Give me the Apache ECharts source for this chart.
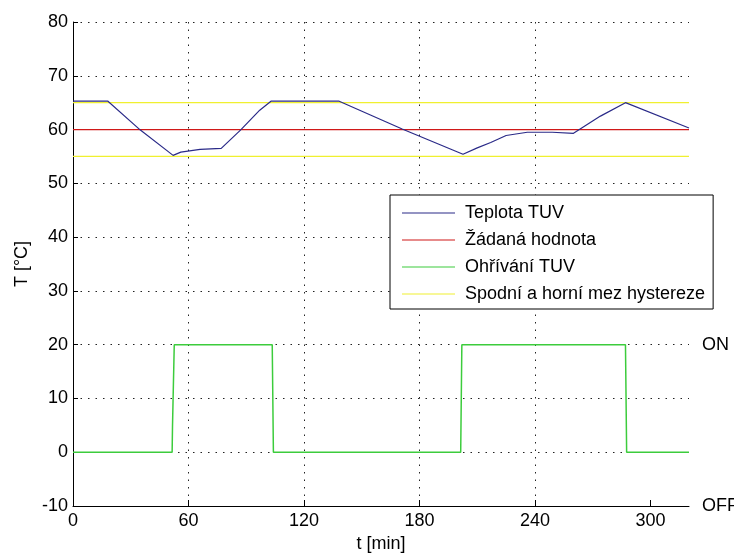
<!DOCTYPE html>
<html>
<head>
<meta charset="utf-8">
<script src="https://cdn.jsdelivr.net/npm/echarts@6/dist/echarts.min.js"></script>
<style>html,body{margin:0;padding:0;background:#fff}#c{width:734px;height:556px}</style>
</head>
<body>
<div id="c"></div>
<script>
// ---- data ----
var tempTime  = [0, 18, 35, 52, 56, 66, 77, 87, 97, 103, 138, 171, 202.6, 210, 217, 225, 236, 249, 250, 260, 274, 287, 320];
var tempValue = [65.3, 65.3, 59.9, 55.2, 55.8, 56.3, 56.5, 59.9, 63.6, 65.3, 65.3, 60.1, 55.4, 56.6, 57.6, 58.9, 59.5, 59.5, 59.2, 59.3, 62.5, 65.0, 60.3];
var setTime   = [0, 320];
var setValue  = [60, 60];
var heatTime  = [0, 51.5, 51.7, 52.6, 103.5, 103.8, 104.1, 201.4, 201.7, 202.0, 287.0, 287.3, 287.6, 320];
var heatValue = [0, 0, 5, 20, 20, 10, 0, 0, 10, 20, 20, 10, 0, 0];
var lowerTime = [0, 320];
var lowerValue = [55, 55];
var upperTime = [0, 320];
var upperValue = [65, 65];
var xTicks = [0, 60, 120, 180, 240, 300];
var stateTicks = [-10, 20];
var stateLabels = ['OFF', 'ON'];
var names = ['Teplota TUV', 'Žádaná hodnota', 'Ohřívání TUV', 'Spodní a horní mez hystereze'];

function pairs(a, b) { return a.map(function (v, i) { return [v, b[i]]; }); }

var FONT = 'Liberation Sans, Arial, sans-serif';
var FS = 18;
var dotted = { color: '#222', width: 1, type: [1.5, 6] };

var chart = echarts.init(document.getElementById('c'), null, { renderer: 'canvas' });
chart.setOption({
  animation: false,
  backgroundColor: '#fff',
  textStyle: { fontFamily: FONT },
  grid: { left: 73, right: 45, top: 22, bottom: 50, containLabel: false, outerBoundsMode: 'none' },
  legend: {
    data: names,
    orient: 'vertical',
    left: 390, top: 195,
    padding: [8, 8, 5, 12],
    itemGap: 7,
    itemWidth: 53, itemHeight: 1.2,
    icon: 'rect',
    backgroundColor: '#fff',
    borderColor: '#000', borderWidth: 1, borderRadius: 0,
    selectedMode: false,
    textStyle: { fontFamily: FONT, fontSize: FS, color: '#000', lineHeight: 20, padding: [0, 0, 0, 5] }
  },
  xAxis: {
    type: 'value', min: 0, max: 320,
    name: 't [min]', nameLocation: 'middle', nameGap: 25,
    nameTextStyle: { fontFamily: FONT, fontSize: FS, color: '#000' },
    axisLine: { show: true, onZero: false, lineStyle: { color: '#000', width: 1 } },
    axisTick: { show: true, inside: true, length: 6, customValues: xTicks, lineStyle: { color: '#000' } },
    axisLabel: { customValues: xTicks, fontFamily: FONT, fontSize: FS, color: '#000', margin: 6,
      formatter: function (v) { return xTicks.indexOf(v) >= 0 ? String(v) : ''; } },
    splitLine: { show: true, showMinLine: false, showMaxLine: false, lineStyle: dotted }
  },
  yAxis: [{
    type: 'value', min: -10, max: 80, interval: 10,
    name: 'T [°C]', nameLocation: 'middle', nameGap: 41,
    nameTextStyle: { fontFamily: FONT, fontSize: FS, color: '#000' },
    axisLine: { show: true, onZero: false, lineStyle: { color: '#000', width: 1 } },
    axisTick: { show: true, inside: true, length: 5, lineStyle: { color: '#000' } },
    axisLabel: { fontFamily: FONT, fontSize: FS, color: '#000', margin: 5 },
    splitLine: { show: true, showMinLine: false, showMaxLine: true, lineStyle: dotted }
  }, {
    type: 'value', min: -10, max: 80, interval: 10, position: 'right',
    axisLine: { show: false }, axisTick: { show: false }, splitLine: { show: false },
    axisLabel: { customValues: stateTicks, fontFamily: FONT, fontSize: FS, color: '#000', margin: 13,
      formatter: function (v) { var i = stateTicks.indexOf(v); return i >= 0 ? stateLabels[i] : ''; } }
  }],
  series: [
    { name: names[0], type: 'line', color: '#2a2a88', data: pairs(tempTime, tempValue), symbol: 'none', lineStyle: { width: 1.2, color: '#2a2a88' }, z: 4 },
    { name: names[1], type: 'line', color: '#d01818', data: pairs(setTime, setValue), symbol: 'none', lineStyle: { width: 1.2, color: '#d01818' }, z: 3 },
    { name: names[2], type: 'line', color: '#3ccc3c', data: pairs(heatTime, heatValue), symbol: 'none', lineStyle: { width: 1.5, color: '#3ccc3c' }, z: 3 },
    { name: names[3], type: 'line', color: '#f0f030', data: pairs(lowerTime, lowerValue), symbol: 'none', lineStyle: { width: 1.2, color: '#f0f030' }, z: 2 },
    { name: names[3], type: 'line', color: '#f0f030', data: pairs(upperTime, upperValue), symbol: 'none', lineStyle: { width: 1.2, color: '#f0f030' }, z: 2 }
  ]
});
</script>
</body>
</html>
